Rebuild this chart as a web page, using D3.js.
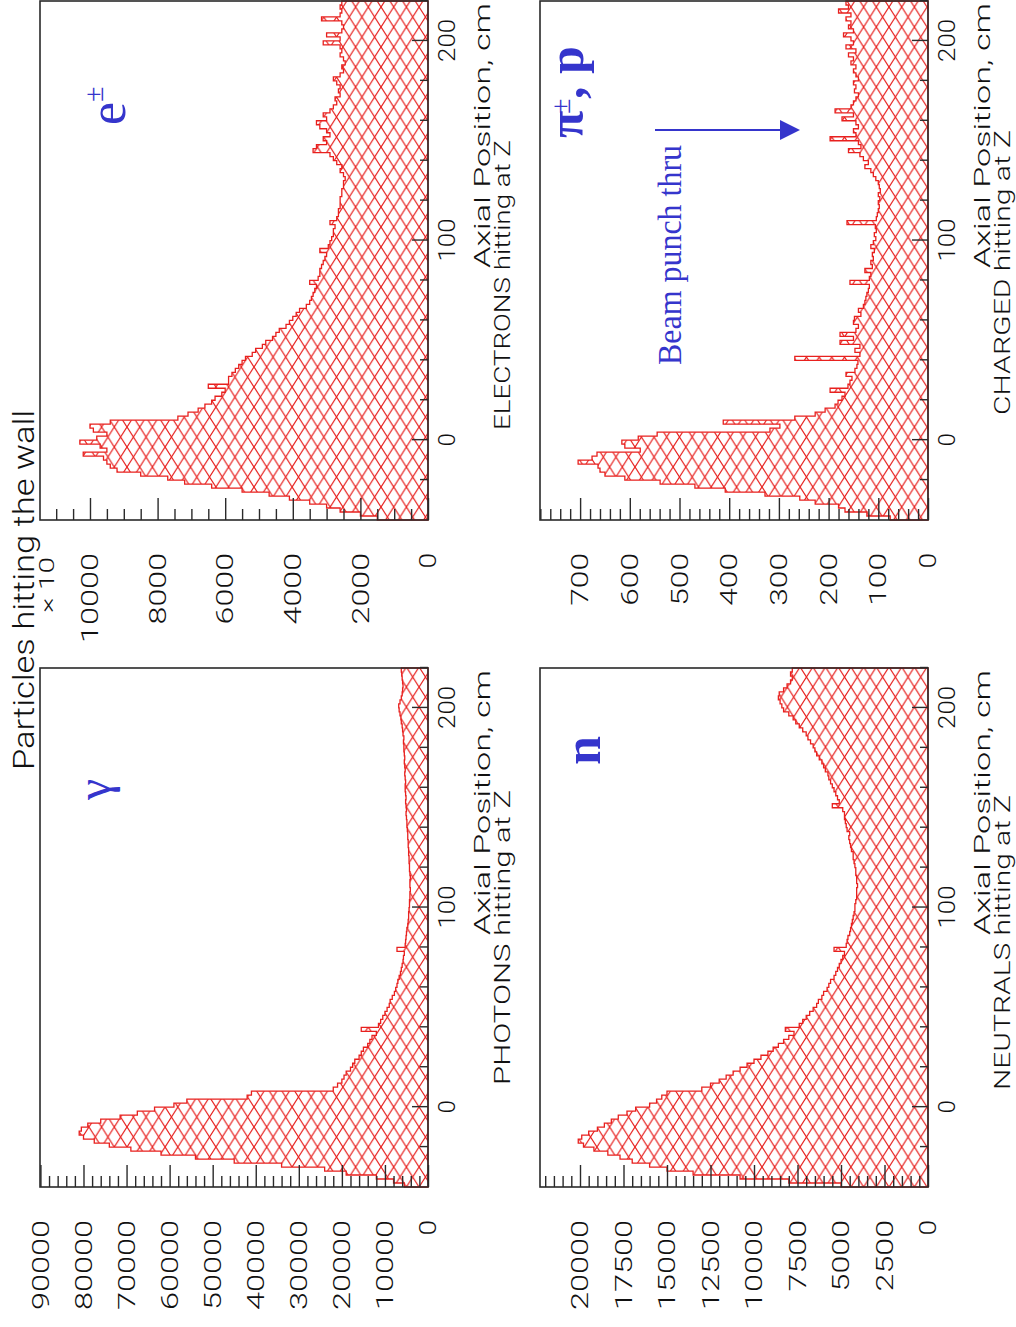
<!DOCTYPE html>
<html>
<head>
<meta charset="utf-8">
<script src="https://cdn.jsdelivr.net/npm/d3@7"></script>
<style>
body { margin: 0; background: #fff; }
</style>
</head>
<body>
<script>
// histogram bins: 2 cm wide, from -40 to 220 cm
var binStart = -40, binWidth = 2, binEnd = 220;

var photons = [
  5500, 8000, 12000, 19000, 24000, 34000, 45000, 54000, 62000, 69000,
  74000, 77500, 80000, 81000, 80500, 79000, 76000, 71500, 67500, 63500,
  59000, 56000, 42000, 41000, 22000, 21000, 20000, 19500, 19000, 18000,
  17500, 17000, 16000, 15500, 15000, 14000, 13500, 13000, 12000, 15500,
  11500, 11000, 10500, 10000, 9500, 9000, 8800, 8300, 7800, 7500,
  7200, 7000, 6700, 6400, 6200, 6000, 5800, 5700, 5500, 7200,
  5300, 5200, 5100, 5000, 4900, 4700, 4600, 4500, 4500, 4400,
  4300, 4300, 4200, 4200, 4100, 4200, 4200, 4100, 4200, 4300,
  4300, 4400, 4400, 4500, 4500, 4600, 4600, 4700, 4700, 4800,
  4900, 4900, 5000, 5100, 5000, 5100, 5200, 5100, 5200, 5300,
  5300, 5200, 5300, 5400, 5300, 5400, 5500, 5400, 5500, 5600,
  5600, 5700, 5600, 5800, 5900, 6000, 6200, 6300, 6500, 6700,
  6800, 6500, 6200, 6000, 5900, 5800, 5900, 6000, 6100, 6200
];

var electrons = [
  1500, 2000, 2600, 3000, 3500, 4100, 4700, 5500, 6400, 7200,
  7700, 8500, 9200, 9400, 9500, 9600, 10200, 9500, 9700, 10300,
  9800, 9500, 9900, 10000, 9400, 7400, 7100, 6800, 6600, 6400,
  6300, 6100, 6000, 6500, 5900, 5900, 5800, 5700, 5600, 5500,
  5400, 5200, 5100, 4900, 4800, 4600, 4500, 4400, 4200, 4100,
  4000, 3900, 3800, 3600, 3500, 3450, 3400, 3350, 3300, 3500,
  3250, 3200, 3200, 3150, 3100, 3050, 3000, 3200, 2950, 2900,
  2850, 2800, 2800, 2750, 2900, 2700, 2650, 2650, 2600, 2600,
  2600, 2550, 2550, 2500, 2500, 2450, 2500, 2600, 2550, 2700,
  2800, 2900, 3400, 3300, 3000, 3100, 2900, 3000, 3200, 3300,
  3000, 3100, 2900, 2800, 2700, 2750, 2600, 2650, 2600, 2700,
  2800, 2600, 2500, 2550, 2450, 2500, 2600, 2550, 2600, 3100,
  2600, 3000, 2550, 2500, 2550, 3150, 2600, 2550, 2600, 2550
];

var neutrals = [
  5000, 8000, 10800, 13500, 15000, 16000, 17000, 17700, 18400, 19200,
  19800, 20100, 19900, 19500, 19000, 18600, 18200, 17800, 17300, 16800,
  16000, 15600, 15300, 15000, 13000, 12500, 12000, 11600, 11200, 10800,
  10400, 10000, 9600, 9200, 8900, 8600, 8300, 8000, 7700, 8200,
  7400, 7200, 7000, 6800, 6600, 6400, 6300, 6100, 6000, 5800,
  5700, 5600, 5400, 5300, 5200, 5100, 5000, 4900, 4800, 5400,
  4700, 4650, 4600, 4500, 4450, 4400, 4350, 4300, 4250, 4200,
  4200, 4150, 4100, 4100, 4100, 4050, 4100, 4100, 4150, 4150,
  4200, 4250, 4300, 4300, 4400, 4450, 4500, 4550, 4500, 4650,
  4700, 4750, 4800, 4800, 4900, 5500, 5100, 5200, 5300, 5400,
  5500, 5600, 5700, 5750, 5900, 6000, 6100, 6250, 6400, 6500,
  6600, 6750, 6900, 7000, 7200, 7400, 7600, 7750, 8000, 8300,
  8400, 8500, 8600, 8550, 8300, 8100, 7900, 7800, 7900, 7800
];

var charged = [
  76, 123, 167, 180, 227, 258, 328, 408, 469, 539,
  610, 650, 660, 664, 704, 676, 666, 579, 610, 616,
  583, 545, 318, 298, 412, 268, 227, 207, 187, 181,
  173, 167, 197, 161, 157, 153, 165, 147, 143, 141,
  268, 137, 147, 137, 177, 150, 177, 145, 140, 150,
  148, 135, 140, 130, 127, 125, 123, 120, 118, 157,
  118, 115, 127, 112, 115, 110, 112, 108, 115, 110,
  105, 108, 104, 106, 163, 104, 102, 100, 98, 100,
  97, 100, 96, 98, 100, 105, 110, 115, 127, 120,
  130, 137, 160, 135, 140, 197, 145, 150, 140, 145,
  173, 150, 187, 155, 150, 145, 140, 148, 145, 150,
  140, 145, 150, 145, 155, 150, 160, 145, 165, 150,
  155, 170, 150, 160, 155, 165, 155, 180, 160, 165
];

var posTicks = [0, 100, 200];
var photonTicks = [0, 10000, 20000, 30000, 40000, 50000, 60000, 70000, 80000, 90000];
var electronTicks = [0, 2000, 4000, 6000, 8000, 10000];
var neutralTicks = [0, 2500, 5000, 7500, 10000, 12500, 15000, 17500, 20000];
var chargedTicks = [0, 100, 200, 300, 400, 500, 600, 700];

var titleText = "Particles hitting the wall";
var axisText = "Axial Position, cm";

var red = "#e8201e", blue = "#3535cc", ink = "#2a2a2a";
var sans = "Roboto, 'DejaVu Sans', sans-serif";

var svg = d3.select("body").append("svg")
    .attr("width", 1016)
    .attr("height", 1327);

// hatch: crossing red lines, diamonds 20 wide x 12.7 high in the page's own frame
var defs = svg.append("defs");
var pat = defs.append("pattern")
    .attr("id", "hatch")
    .attr("patternUnits", "userSpaceOnUse")
    .attr("width", 20)
    .attr("height", 12.7);
pat.append("rect").attr("width", 20).attr("height", 12.7).attr("fill", "#fff");
pat.append("path")
    .attr("d", "M-20,-12.7L40,25.4M-20,25.4L40,-12.7")
    .attr("stroke", red)
    .attr("stroke-width", 1.1)
    .attr("fill", "none");

// the figure is landscape, turned a quarter turn counter-clockwise on the page
var root = svg.append("g")
    .attr("transform", "translate(0,1327) rotate(-90)");

// stretch a text to a width measured on the picture
function fit(sel, perChar, trim) {
  sel.each(function() {
    var n = this.textContent.length;
    if (n) d3.select(this).attr("textLength", n * perChar - (trim || 0))
      .attr("lengthAdjust", "spacingAndGlyphs");
  });
}

function minorTicks(max, step, majors) {
  return d3.range(0, max + 1e-6, step).filter(function(t) {
    return majors.indexOf(t) < 0;
  });
}

function light(sel, size) {
  return sel.style("font-family", sans)
      .style("font-weight", 300)
      .style("font-size", size + "px")
      .attr("fill", "#111");
}

function drawPanel(p) {
  var x = d3.scaleLinear().domain([binStart, binEnd]).range([p.u0, p.u1]);
  var y = d3.scaleLinear().domain([0, p.yMax]).range([p.v1, p.v0]);
  var g = root.append("g");

  var bins = p.values.map(function(v, i) {
    return { x: binStart + i * binWidth, v: v };
  });
  bins.push({ x: binEnd, v: p.values[p.values.length - 1] });

  var area = d3.area()
      .curve(d3.curveStepAfter)
      .x(function(d) { return x(d.x); })
      .y0(y(0))
      .y1(function(d) { return y(d.v); });

  g.append("path")
      .datum(bins)
      .attr("d", area)
      .attr("fill", "url(#hatch)")
      .attr("stroke", red)
      .attr("stroke-width", 1.3);

  // position axis (bottom), ticks inside
  var xa = g.append("g")
      .attr("transform", "translate(0," + p.v1 + ")")
      .call(d3.axisBottom(x).tickValues(posTicks).tickSize(-16).tickSizeOuter(0)
        .tickPadding(10).tickFormat(d3.format("d")));
  g.append("g")
      .attr("transform", "translate(0," + p.v1 + ")")
      .call(d3.axisBottom(x).tickValues(d3.range(-20, 221, 20).filter(function(t) { return t % 100; }))
        .tickSize(-8).tickSizeOuter(0).tickFormat(""));

  // count axis (left), ticks inside
  var ya = g.append("g")
      .attr("transform", "translate(" + p.u0 + ",0)")
      .call(d3.axisLeft(y).tickValues(p.ticks).tickSize(-22).tickSizeOuter(0)
        .tickPadding(33).tickFormat(d3.format("d")));
  g.append("g")
      .attr("transform", "translate(" + p.u0 + ",0)")
      .call(d3.axisLeft(y).tickValues(minorTicks(p.yMax, p.minor, p.ticks))
        .tickSize(-11).tickSizeOuter(0).tickFormat(""));

  g.selectAll(".domain").remove();
  g.selectAll(".tick line").attr("stroke", ink).attr("stroke-width", 1.4);
  light(g.selectAll(".tick text"), 24);
  fit(xa.selectAll(".tick text"), 15, 2);
  fit(ya.selectAll(".tick text"), 18.6, 3);

  // frame
  g.append("rect")
      .attr("x", p.u0).attr("y", p.v0)
      .attr("width", p.u1 - p.u0).attr("height", p.v1 - p.v0)
      .attr("fill", "none").attr("stroke", ink).attr("stroke-width", 1.6);

  // axis captions
  var t1 = light(g.append("text"), 22)
      .attr("x", p.u1 - 2).attr("y", p.v1 + 62)
      .attr("text-anchor", "end")
      .text(axisText);
  fit(t1, 265 / axisText.length);
  var t2 = light(g.append("text"), 22)
      .attr("x", p.capStart).attr("y", p.v1 + 82)
      .text(p.caption);
  fit(t2, p.capLen / p.caption.length);
}

var panels = [
  { values: photons, u0: 140, u1: 659, v0: 40, v1: 428, yMax: 90100,
    ticks: photonTicks, minor: 2000, caption: "PHOTONS hitting at Z", capStart: 242, capLen: 295 },
  { values: electrons, u0: 807, u1: 1326, v0: 40, v1: 428, yMax: 11479,
    ticks: electronTicks, minor: 500, caption: "ELECTRONS hitting at Z", capStart: 897, capLen: 290 },
  { values: neutrals, u0: 140, u1: 659, v0: 540, v1: 928, yMax: 22299,
    ticks: neutralTicks, minor: 500, caption: "NEUTRALS hitting at Z", capStart: 237, capLen: 295 },
  { values: charged, u0: 807, u1: 1326, v0: 540, v1: 928, yMax: 780.7,
    ticks: chargedTicks, minor: 20, caption: "CHARGED hitting at Z", capStart: 912, capLen: 285 }
];
panels.forEach(drawPanel);

// title and scale factor
var title = light(root.append("text"), 30)
    .attr("x", 737).attr("y", 34)
    .attr("text-anchor", "middle")
    .text(titleText);
fit(title, 360 / titleText.length);
var factor = light(root.append("text"), 20)
    .attr("x", 770).attr("y", 54)
    .attr("text-anchor", "end")
    .text("\u00d7 10");
fit(factor, 14);

// particle labels
function serif(x, y, size, txt, weight) {
  return root.append("text")
      .attr("x", x).attr("y", y)
      .style("font-family", "'Liberation Serif', 'DejaVu Serif', serif")
      .style("font-size", size + "px")
      .style("font-weight", weight || "normal")
      .attr("fill", blue)
      .text(txt);
}
serif(527, 110, 48, "\u03b3");
serif(1202, 125, 52, "e");
serif(1225, 103, 28, "\u00b1");
serif(562, 600, 52, "n", "bold");
serif(1189, 583, 50, "\u03c0", "bold");
serif(1213, 570, 28, "\u00b1");
serif(1228, 583, 50, ", p", "bold");
var beam = serif(962, 681, 34, "Beam punch thru");
beam.attr("textLength", 220).attr("lengthAdjust", "spacingAndGlyphs");

// arrow pointing at the punch-through
root.append("line")
    .attr("x1", 1197).attr("y1", 655)
    .attr("x2", 1197).attr("y2", 782)
    .attr("stroke", blue).attr("stroke-width", 2);
root.append("path")
    .attr("d", "M1187,780L1207,780L1197,800Z")
    .attr("fill", blue);
</script>
</body>
</html>
